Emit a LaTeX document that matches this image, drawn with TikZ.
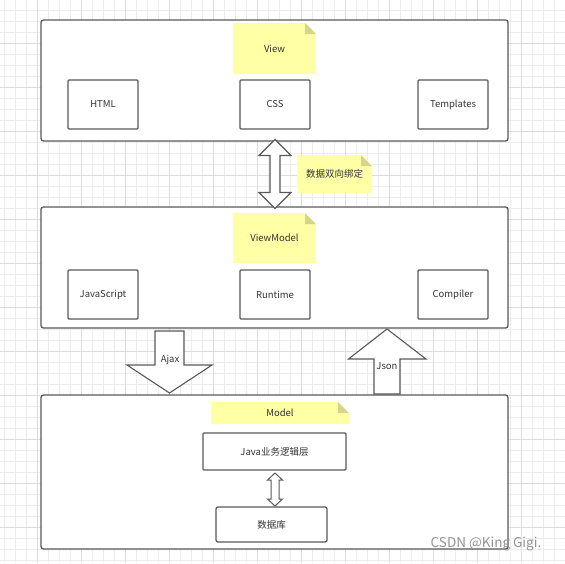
\documentclass[tikz,border=0pt]{standalone}
\usepackage{fontspec}
\setmainfont{Noto Sans CJK SC}
\usetikzlibrary{positioning}
\definecolor{edge}{HTML}{595959}
\definecolor{ink}{HTML}{333333}
\definecolor{notefill}{HTML}{FFFFA6}
\definecolor{notefold}{HTML}{D6D68A}
\definecolor{gridminor}{HTML}{EDEDED}
\definecolor{gridmajor}{HTML}{DCDCDC}

\begin{document}
\begin{tikzpicture}[x=1pt, y=-1pt,
  every node/.style={font=\fontsize{9.5}{11}\selectfont, text=ink},
  layer/.style={draw=edge, line width=1.3pt, fill=white, rounded corners=2.5pt,
                minimum width=467pt, inner sep=0pt},
  part/.style={draw=edge, line width=1.3pt, fill=white, rounded corners=1pt,
               minimum width=70pt, minimum height=49pt, inner sep=0pt},
  note/.style={inner sep=0pt, path picture={
      \fill[notefill] (path picture bounding box.north west)
        -- ([xshift=-11pt]path picture bounding box.north east)
        -- ([yshift=-11pt]path picture bounding box.north east)
        -- (path picture bounding box.south east)
        -- (path picture bounding box.south west) -- cycle;
      \fill[notefold] ([xshift=-11pt]path picture bounding box.north east)
        -- ([xshift=-11pt,yshift=-11pt]path picture bounding box.north east)
        -- ([yshift=-11pt]path picture bounding box.north east) -- cycle;}},
  blockarrow/.style={draw=edge, line width=1.1pt, fill=white, line join=miter}]
  \useasboundingbox (0,0) rectangle (565,563);
  % background grid
  \foreach \gx in {4,15,...,565} \draw[gridminor, line width=0.7pt] (\gx,0) -- (\gx,563);
  \foreach \gy in {10,21,...,563} \draw[gridminor, line width=0.7pt] (0,\gy) -- (565,\gy);
  \foreach \gx in {37,81,...,565} \draw[gridmajor, line width=0.7pt] (\gx,0) -- (\gx,563);
  \foreach \gy in {43,87,...,563} \draw[gridmajor, line width=0.7pt] (0,\gy) -- (565,\gy);

  % the three layers
  \node[layer, minimum height=121pt] (view) at (274.5,80.5) {};
  \node[layer, minimum height=121pt] (vm) at (274.5,267.5) {};
  \node[layer, minimum height=154pt] (model) at (274.5,472) {};

  % arrows between layers
  \draw[blockarrow] (275,139.5) -- (291,155.5) -- (280,155.5) -- (280,192.5) -- (291,192.5)
    -- (275,208.5) -- (259,192.5) -- (270,192.5) -- (270,155.5) -- (259,155.5) -- cycle;
  \draw[blockarrow] (155,331) -- (184,331) -- (184,365) -- (212,365) -- (169.5,393)
    -- (127,365) -- (155,365) -- cycle;
  \draw[blockarrow] (374,394) -- (400,394) -- (400,359) -- (426,359) -- (387,329)
    -- (348.5,359) -- (374,359) -- cycle;
  \node (ajax) at (170,360) {Ajax};
  \node (json) at (387,366) {Json};
  \node[note, minimum width=75pt, minimum height=38pt] (bind) at (334.5,174) {数据双向绑定};

  % view
  \node[note, minimum width=83pt, minimum height=51pt] (viewnote) at (274.5,48.5) {View};
  \node[part] (html) at (103,104.5) {HTML};
  \node[part] (css) at (275,104.5) {CSS};
  \node[part] (tmpl) at (453,104.5) {Templates};

  % viewmodel
  \node[note, minimum width=83pt, minimum height=50pt] (vmnote) at (274.5,238) {ViewModel};
  \node[part] (js) at (103,294.5) {JavaScript};
  \node[part] (runtime) at (275,294.5) {Runtime};
  \node[part] (compiler) at (453,294.5) {Compiler};

  % model
  \node[note, minimum width=138pt, minimum height=22pt] (modelnote) at (280,413) {Model};
  \node[part, minimum width=143pt, minimum height=37pt] (java) at (274.5,451.5) {Java业务逻辑层};
  \node[part, minimum width=111pt, minimum height=35pt, rounded corners=2pt] (db) at (271.5,524.5) {数据库};
  \draw[blockarrow, line width=1pt] (275,473) -- (282.5,480) -- (279,480) -- (279,499) -- (282.5,499)
    -- (275,506) -- (267.5,499) -- (271,499) -- (271,480) -- (267.5,480) -- cycle;

  \node[text=gray!85, font=\fontsize{13.5}{15}\selectfont] (mark) at (486,544) {CSDN @King Gigi.};
\end{tikzpicture}
\end{document}
